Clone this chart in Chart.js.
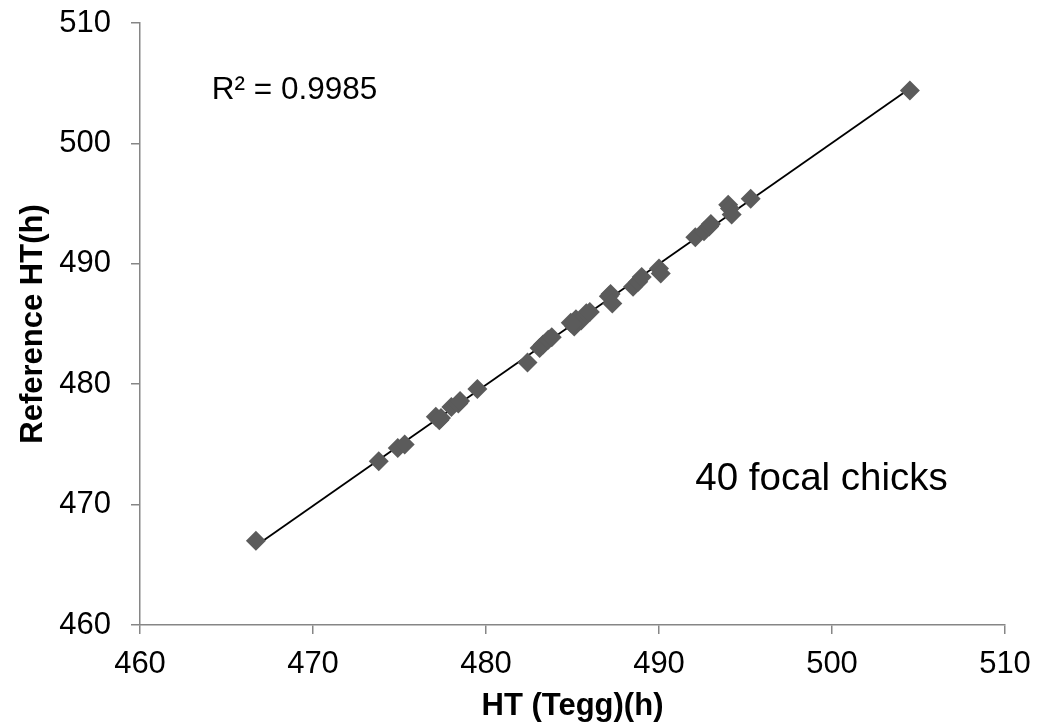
<!DOCTYPE html>
<html><head><meta charset="utf-8">
<script src="https://cdn.jsdelivr.net/npm/chart.js@4/dist/chart.umd.min.js"></script>
<style>html,body{margin:0;padding:0;background:#fff}#wrap{width:1039px;height:728px}</style>
</head><body><div id="wrap"><canvas id="c" width="1039" height="728"></canvas></div>
<script>
const htTegg = [466.7,473.8,474.9,475.3,477.1,477.3,477.4,478.0,478.4,478.5,479.5,482.4,483.1,483.3,483.6,483.8,484.9,485.1,485.2,485.5,485.8,486.0,487.1,487.2,487.3,488.5,488.8,489.0,490.0,490.1,492.1,492.6,492.9,493.0,494.0,494.1,494.2,495.3,485.0,504.5];
const htRef  = [467.0,473.6,474.7,475.0,477.3,477.0,477.2,478.1,478.4,478.6,479.6,481.8,483.0,483.3,483.7,483.9,485.1,484.8,485.4,485.3,485.9,486.0,487.3,487.5,486.7,488.1,488.5,488.9,489.6,489.2,492.2,492.7,493.1,493.3,494.9,494.6,494.1,495.4,485.0,504.4];
const xTicks = [460,470,480,490,500,510];
const yTicks = [460,470,480,490,500,510];
const r2Label = "R² = 0.9985";
const noteLabel = "40 focal chicks";
const xTitle = "HT (Tegg)(h)";
const yTitle = "Reference HT(h)";

const pts = htTegg.map((x,i)=>({x, y: htRef[i]}));
// least-squares trendline from the data
const n = pts.length;
const mx = htTegg.reduce((a,b)=>a+b,0)/n, my = htRef.reduce((a,b)=>a+b,0)/n;
let sxy=0, sxx=0;
for (let i=0;i<n;i++){ sxy+=(htTegg[i]-mx)*(htRef[i]-my); sxx+=(htTegg[i]-mx)**2; }
const slope = sxy/sxx, icpt = my - slope*mx;
const xmin = Math.min(...htTegg), xmax = Math.max(...htTegg);
const trend = [{x:xmin,y:slope*xmin+icpt},{x:xmax,y:slope*xmax+icpt}];

const FONT = "'Liberation Sans', Arial, sans-serif";
const AX = '#868686';

const textPlugin = {
  id:'texts',
  afterDraw(chart){
    const {ctx, scales:{x,y}} = chart;
    ctx.save();
    ctx.fillStyle = '#000';
    ctx.textBaseline = 'middle';
    ctx.textAlign = 'left';
    ctx.font = `31.5px ${FONT}`;
    ctx.fillText(r2Label, x.getPixelForValue(464.15), y.getPixelForValue(504.4));
    ctx.font = `38.5px ${FONT}`;
    ctx.fillText(noteLabel, x.getPixelForValue(492.1), y.getPixelForValue(472.1));
    ctx.restore();
  }
};

new Chart(document.getElementById('c'), {
  type:'scatter',
  data:{datasets:[
    {label:'trend', type:'line', data:trend, borderColor:'#000', borderWidth:1.8, pointRadius:0, fill:false, order:2},
    {label:'data', data:pts, pointStyle:'rectRot', pointRadius:10, pointHoverRadius:10,
     backgroundColor:'#5b5b5b', borderColor:'#5b5b5b', borderWidth:0, order:1}
  ]},
  options:{
    responsive:false, animation:false, devicePixelRatio:1,
    layout:{padding:{top:23,right:34,left:0,bottom:0}},
    plugins:{legend:{display:false}, tooltip:{enabled:false}},
    scales:{
      x:{type:'linear', min:460, max:510,
        afterBuildTicks(s){ s.ticks = xTicks.map(v=>({value:v})); },
        afterFit(s){ s.height = 103; s.paddingLeft = 0; s.paddingRight = 0; },
        border:{color:AX, width:1.5},
        grid:{display:true, drawOnChartArea:false, drawTicks:true, tickLength:9, color:AX, lineWidth:1.5},
        ticks:{color:'#000', font:{family:FONT, size:31}, padding:12, maxRotation:0},
        title:{display:true, text:xTitle, color:'#000', font:{family:FONT, size:31, weight:'bold'}, padding:{top:4,bottom:3}}
      },
      y:{type:'linear', min:460, max:510,
        afterBuildTicks(s){ s.ticks = yTicks.map(v=>({value:v})); },
        afterFit(s){ s.width = 140; s.paddingTop = 0; s.paddingBottom = 0; },
        border:{color:AX, width:1.5},
        grid:{display:true, drawOnChartArea:false, drawTicks:true, tickLength:9, color:AX, lineWidth:1.5},
        ticks:{color:'#000', font:{family:FONT, size:31}, padding:20},
        title:{display:true, text:yTitle, color:'#000', font:{family:FONT, size:31, weight:'bold'}, padding:{top:15,bottom:4}}
      }
    }
  },
  plugins:[textPlugin]
});
</script></body></html>
